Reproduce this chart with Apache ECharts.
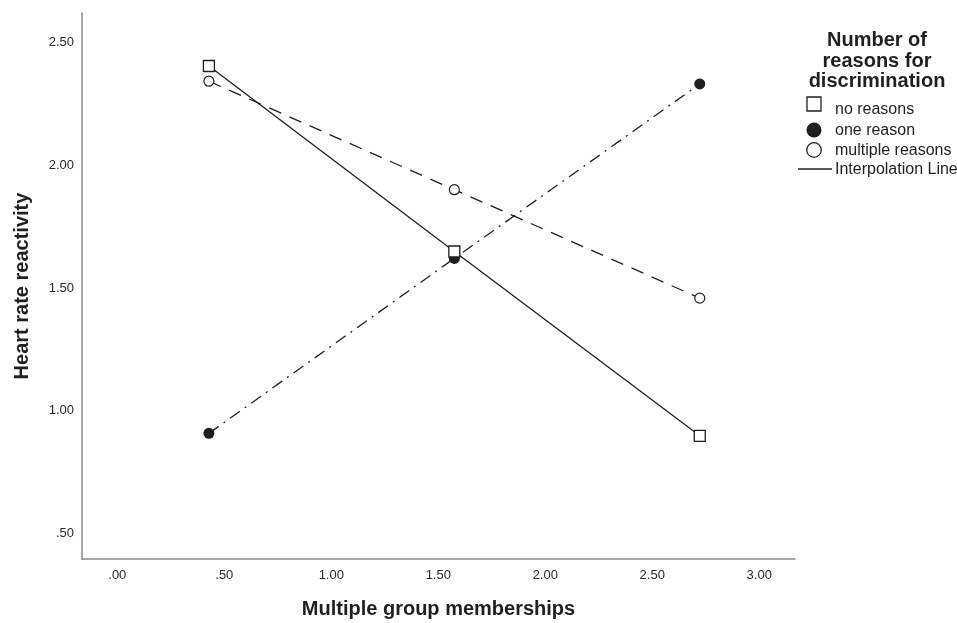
<!DOCTYPE html>
<html>
<head>
<meta charset="utf-8">
<style>
  html, body { margin: 0; padding: 0; background: #fff; }
  #chart { width: 957px; height: 623px; }
</style>
<script src="https://cdn.jsdelivr.net/npm/echarts@6/dist/echarts.min.js"></script>
</head>
<body>
<div id="chart"></div>
<script>
// ---- data ----
const xValues = [0.428, 1.575, 2.722];
const noReasons = [2.405, 1.649, 0.898];
const oneReason = [0.908, 1.621, 2.332];
const multipleReasons = [2.343, 1.901, 1.459];
const xTicks = [0, 0.5, 1, 1.5, 2, 2.5, 3];
const yTicks = [0.5, 1, 1.5, 2, 2.5];
const seriesNames = ['no reasons', 'one reason', 'multiple reasons'];
const legendTitle = 'Number of\nreasons for\ndiscrimination';

const FONT = '"Liberation Sans", Arial, sans-serif';
const INK = '#1f1f1f';

function pairs(ys) { return xValues.map((x, i) => [x, ys[i]]); }
function fmt(v) { return v.toFixed(2).replace(/^0/, ''); }

const chart = echarts.init(document.getElementById('chart'), null, { renderer: 'canvas' });

const lineBase = { color: INK, width: 1.3 };

const legendX = 814, textX = 835;
const rowsY = [110, 131, 151, 170];

chart.setOption({
  animation: false,
  backgroundColor: '#fff',
  grid: { left: 82, right: 162, top: 13, bottom: 64, containLabel: false, outerBoundsMode: 'none' },
  xAxis: {
    type: 'value',
    min: -0.165, max: 3.167,
    name: 'Multiple group memberships',
    nameLocation: 'middle',
    nameGap: 40,
    nameTextStyle: { fontFamily: FONT, fontSize: 20, fontWeight: 'bold', color: INK },
    axisLine: { show: true, onZero: false, lineStyle: { color: '#8a8a8a', width: 1.5 } },
    axisTick: { show: false },
    splitLine: { show: false },
    axisLabel: {
      customValues: xTicks,
      formatter: fmt,
      margin: 10,
      fontFamily: FONT, fontSize: 13, color: '#2a2a2a',
      showMinLabel: true, showMaxLabel: true
    }
  },
  yAxis: {
    type: 'value',
    min: 0.396, max: 2.621,
    name: 'Heart rate reactivity',
    nameLocation: 'middle',
    nameGap: 50,
    nameTextStyle: { fontFamily: FONT, fontSize: 20, fontWeight: 'bold', color: INK },
    axisLine: { show: true, onZero: false, lineStyle: { color: '#8a8a8a', width: 1.5 } },
    axisTick: { show: false },
    splitLine: { show: false },
    axisLabel: {
      customValues: yTicks,
      formatter: fmt,
      margin: 8,
      fontFamily: FONT, fontSize: 13, color: '#2a2a2a'
    }
  },
  series: [
    {
      name: seriesNames[0], type: 'line', data: pairs(noReasons),
      symbol: 'rect', symbolSize: 11,
      itemStyle: { color: '#fff', borderColor: INK, borderWidth: 1.3 },
      lineStyle: Object.assign({}, lineBase, { type: 'solid' }),
      z: 3
    },
    {
      name: seriesNames[1], type: 'line', data: pairs(oneReason),
      symbol: 'circle', symbolSize: 11,
      itemStyle: { color: INK, borderColor: INK, borderWidth: 0 },
      lineStyle: Object.assign({}, lineBase, { type: [12, 6, 2, 6] }),
      z: 2
    },
    {
      name: seriesNames[2], type: 'line', data: pairs(multipleReasons),
      symbol: 'circle', symbolSize: 10,
      itemStyle: { color: '#fff', borderColor: INK, borderWidth: 1.2 },
      lineStyle: Object.assign({}, lineBase, { type: [13, 9] }),
      z: 2
    }
  ],
  graphic: [
    {
      type: 'text', x: 877, y: 61,
      style: {
        text: legendTitle, fontFamily: FONT, fontSize: 20, fontWeight: 'bold',
        fill: INK, align: 'center', verticalAlign: 'middle', lineHeight: 20.5
      }
    },
    { type: 'rect', shape: { x: legendX - 7, y: 97, width: 14, height: 14 },
      style: { fill: '#fff', stroke: INK, lineWidth: 1.3 } },
    { type: 'circle', shape: { cx: legendX, cy: rowsY[1] - 1, r: 7.5 },
      style: { fill: INK } },
    { type: 'circle', shape: { cx: legendX, cy: rowsY[2] - 1, r: 7.3 },
      style: { fill: '#fff', stroke: INK, lineWidth: 1.3 } },
    { type: 'line', shape: { x1: 798, y1: rowsY[3] - 1, x2: 832, y2: rowsY[3] - 1 },
      style: { stroke: INK, lineWidth: 1.3 } },
    { type: 'text', x: textX, y: rowsY[0],
      style: { text: seriesNames[0], fontFamily: FONT, fontSize: 16, fill: INK, verticalAlign: 'middle' } },
    { type: 'text', x: textX, y: rowsY[1],
      style: { text: seriesNames[1], fontFamily: FONT, fontSize: 16, fill: INK, verticalAlign: 'middle' } },
    { type: 'text', x: textX, y: rowsY[2],
      style: { text: seriesNames[2], fontFamily: FONT, fontSize: 16, fill: INK, verticalAlign: 'middle' } },
    { type: 'text', x: textX, y: rowsY[3],
      style: { text: 'Interpolation Line', fontFamily: FONT, fontSize: 16, fill: INK, verticalAlign: 'middle' } }
  ]
});
</script>
</body>
</html>
